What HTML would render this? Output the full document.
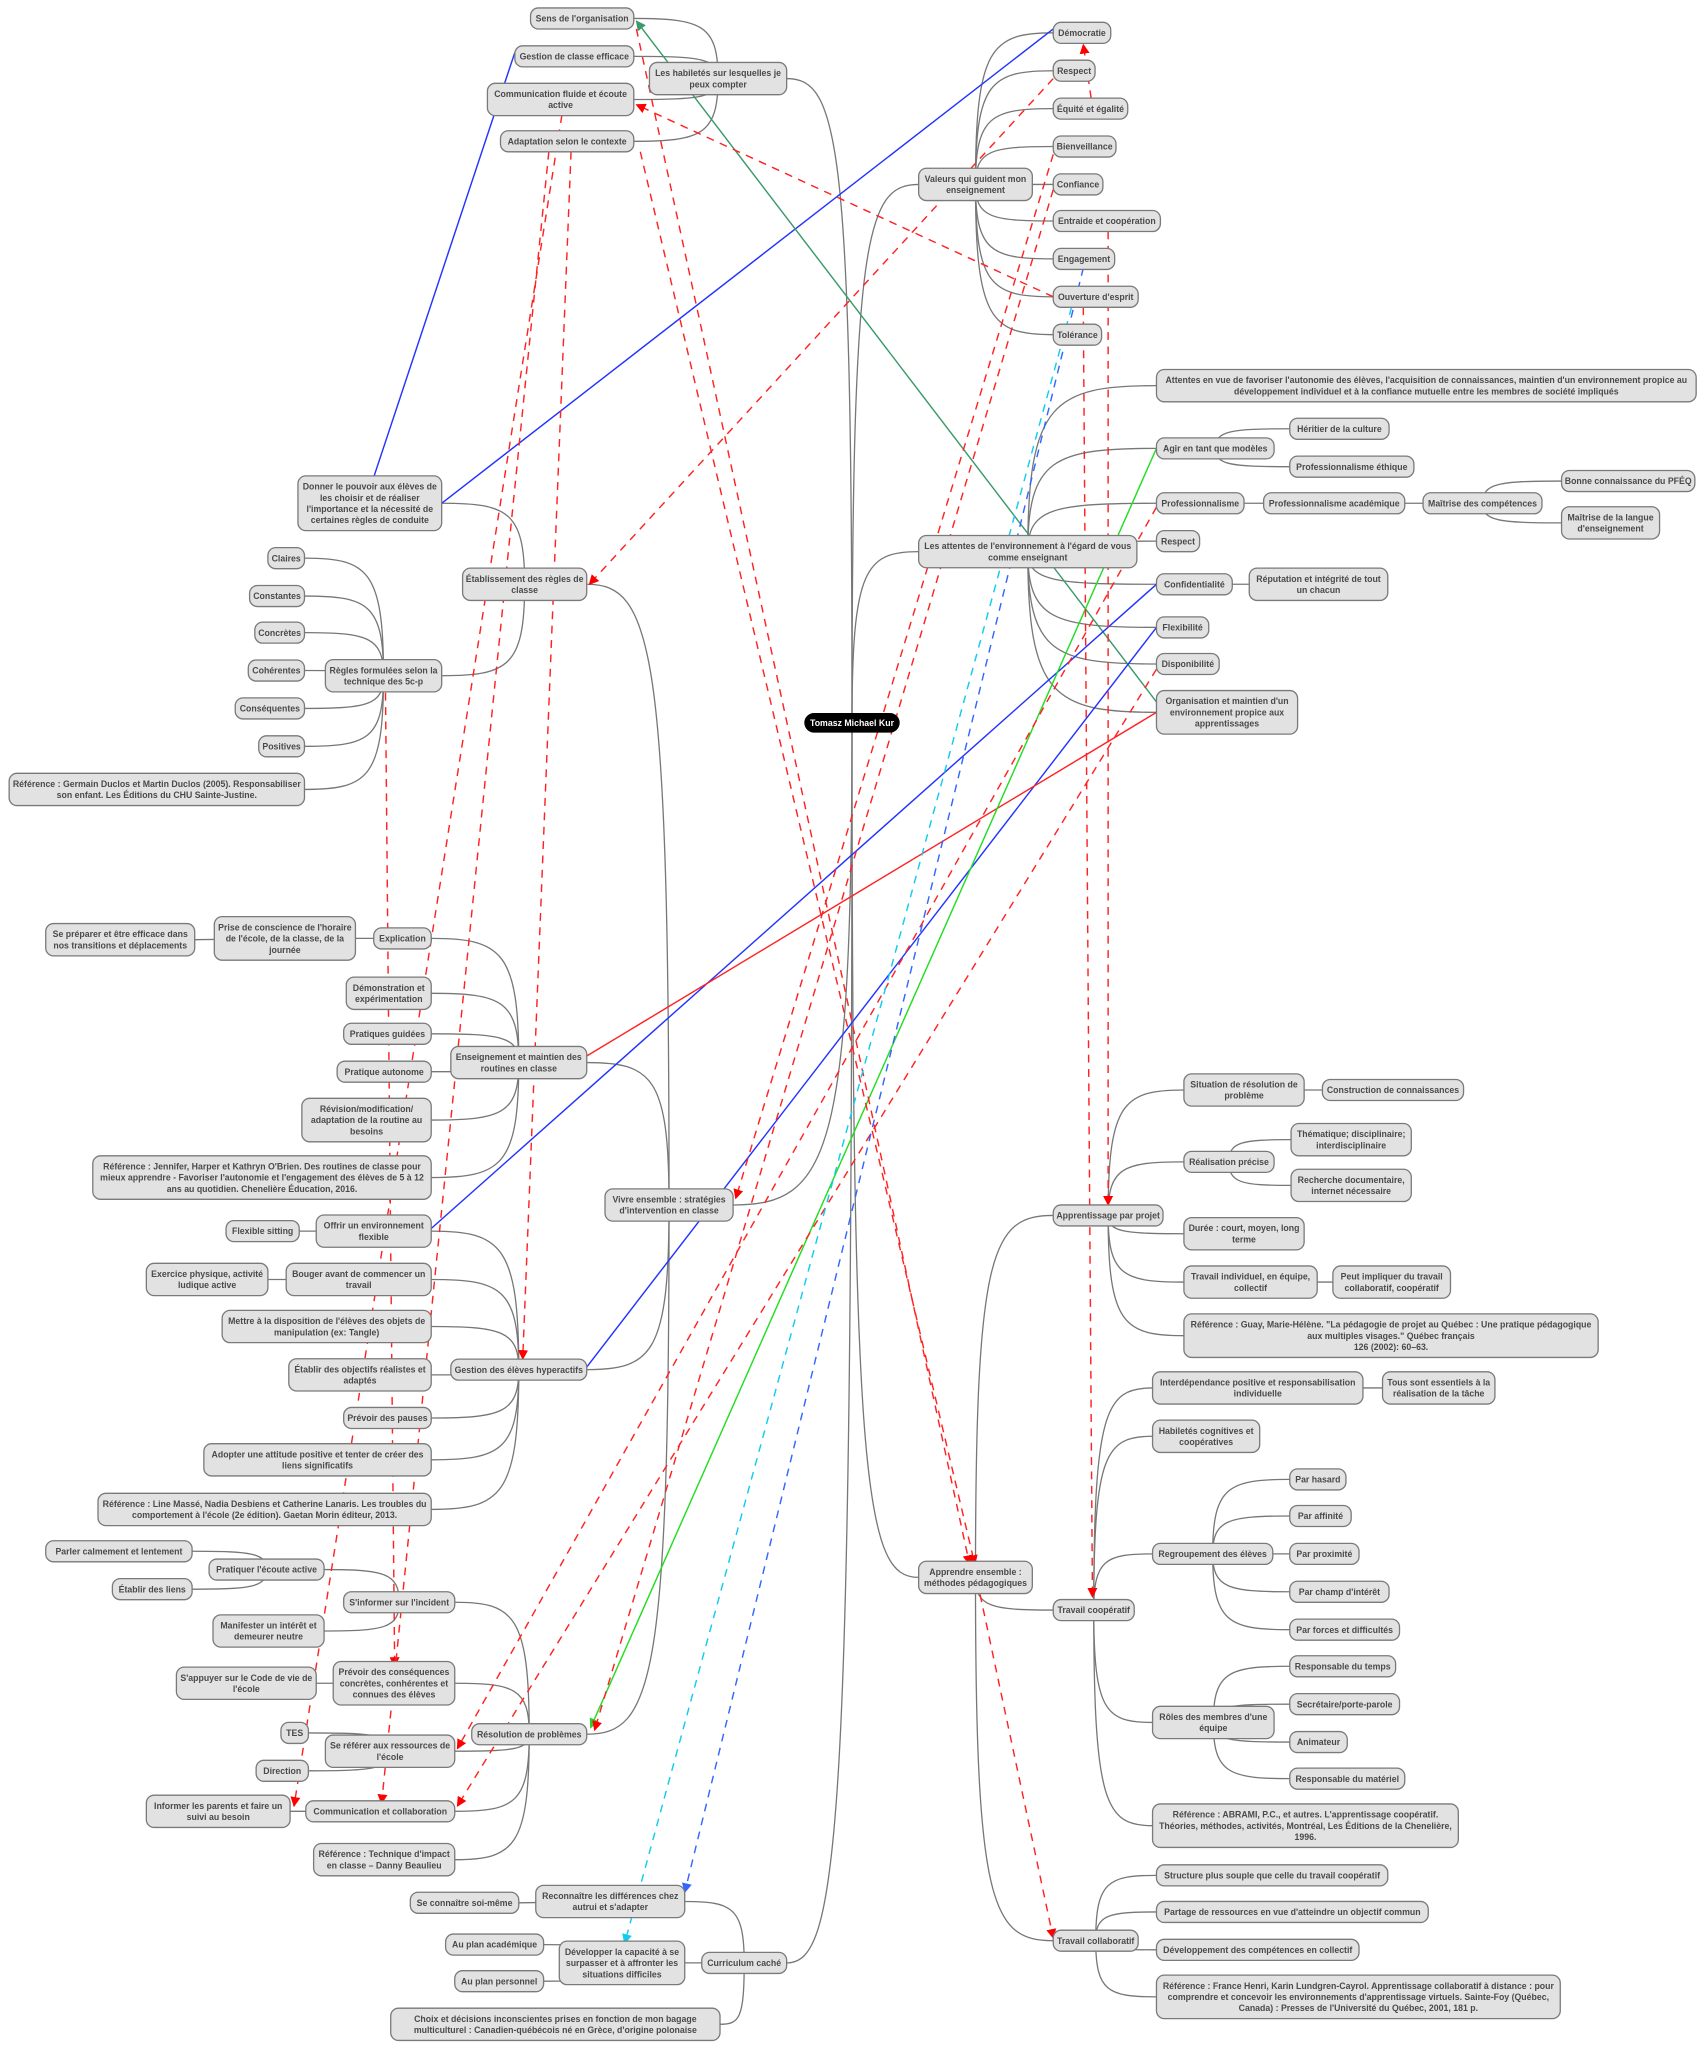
<!DOCTYPE html>
<html><head><meta charset="utf-8">
<style>
html,body{margin:0;padding:0;background:#fff;}
svg{display:block;}
text{font-family:"Liberation Sans","DejaVu Sans",sans-serif;font-weight:bold;font-size:6.7px;fill:#4a4a4a;}
</style></head><body>
<svg id="s" width="1704" height="2048" viewBox="0 0 1304 1567" xmlns="http://www.w3.org/2000/svg">
<defs>
<marker id="ar" viewBox="0 0 10 10" refX="9" refY="5" markerWidth="7" markerHeight="7" orient="auto"><path d="M0,0 L10,5 L0,10 z" fill="#f00"/></marker>
<marker id="ag" viewBox="0 0 10 10" refX="9" refY="5" markerWidth="7" markerHeight="7" orient="auto"><path d="M0,0 L10,5 L0,10 z" fill="#2ecc2e"/></marker>
<marker id="at" viewBox="0 0 10 10" refX="9" refY="5" markerWidth="7" markerHeight="7" orient="auto"><path d="M0,0 L10,5 L0,10 z" fill="#3a9a6a"/></marker>
<marker id="ab" viewBox="0 0 10 10" refX="9" refY="5" markerWidth="7" markerHeight="7" orient="auto"><path d="M0,0 L10,5 L0,10 z" fill="#3366ff"/></marker>
<marker id="ac" viewBox="0 0 10 10" refX="9" refY="5" markerWidth="7" markerHeight="7" orient="auto"><path d="M0,0 L10,5 L0,10 z" fill="#11ccee"/></marker>
</defs>
<g id="edges"></g><g id="links"></g><g id="nodes"></g>
</svg>
<script>
var N={
C:[616,688,553,"Tomasz Michael Kur",null],
hab:[497,602,60,"Les habiletés sur lesquelles je|peux compter","C"],
sens:[406,485,14,"Sens de l'organisation","hab"],
gce:[394,485,43,"Gestion de classe efficace","hab"],
com:[373,485,76,"Communication fluide et écoute|active","hab"],
adap:[383,485,108,"Adaptation selon le contexte","hab"],
val:[703,790,141,"Valeurs qui guident mon|enseignement","C"],
dem:[806,850,25,"Démocratie","val"],
res:[806,838,54,"Respect","val"],
equ:[806,863,83,"Équité et égalité","val"],
bien:[806,854,112,"Bienveillance","val"],
conf:[806,844,141,"Confiance","val"],
entr:[806,888,169,"Entraide et coopération","val"],
eng:[806,853,198,"Engagement","val"],
ouv:[806,871,227,"Ouverture d'esprit","val"],
tol:[806,843,256,"Tolérance","val"],
att:[703,870,422,"Les attentes de l'environnement à l'égard de vous|comme enseignant","C"],
attv:[885,1298,295,"Attentes en vue de favoriser l'autonomie des élèves, l'acquisition de connaissances, maintien d'un environnement propice au|développement individuel et à la confiance mutuelle entre les membres de société impliqués","att"],
agir:[885,975,343,"Agir en tant que modèles","att"],
heri:[987,1063,328,"Héritier de la culture","agir"],
peth:[987,1082,357,"Professionnalisme éthique","agir"],
prof:[885,952,385,"Professionnalisme","att"],
pacad:[967,1075,385,"Professionnalisme académique","prof"],
mcomp:[1089,1180,385,"Maîtrise des compétences","pacad"],
pfeq:[1195,1297,368,"Bonne connaissance du PFÉQ","mcomp"],
lang:[1195,1270,400,"Maîtrise de la langue|d'enseignement","mcomp"],
resp2:[885,918,414,"Respect","att"],
confid:[885,943,447,"Confidentialité","att"],
rep:[956,1062,447,"Réputation et intégrité de tout|un chacun","confid"],
flex:[885,925,480,"Flexibilité","att"],
dispo:[885,933,508,"Disponibilité","att"],
orga:[885,993,545,"Organisation  et  maintien d'un|environnement propice aux|apprentissages","att"],
viv:[463,561,922,"Vivre ensemble : stratégies|d'intervention en classe","C"],
etab:[354,449,447,"Établissement des règles de|classe","viv"],
donner:[228,338,385,"Donner le pouvoir aux élèves de|les choisir et de réaliser|l'importance et la nécessité de|certaines règles de conduite","etab"],
regl:[249,338,517,"Règles formulées selon la|technique des 5c-p","etab"],
cl:[205,233,427,"Claires","regl"],
cst:[191,233,456,"Constantes","regl"],
ccr:[195,233,484,"Concrètes","regl"],
coh:[190,233,513,"Cohérentes","regl"],
csq:[180,233,542,"Conséquentes","regl"],
pos:[198,233,571,"Positives","regl"],
refg:[7,233,604,"Référence : Germain Duclos et Martin Duclos (2005). Responsabiliser|son enfant. Les Éditions du CHU Sainte-Justine.","regl"],
ens:[345,449,813,"Enseignement et maintien des|routines en classe","viv"],
expl:[286,330,718,"Explication","ens"],
prise:[164,272,718,"Prise de conscience de l'horaire|de l'école, de la classe, de la|journée","expl"],
prep:[35,149,719,"Se préparer et être efficace dans|nos transitions et déplacements","prise"],
demo:[265,330,760,"Démonstration et|expérimentation","ens"],
pg:[263,330,791,"Pratiques guidées","ens"],
pa:[258,330,820,"Pratique autonome","ens"],
rev:[231,330,857,"Révision/modification/|adaptation de la routine au|besoins","ens"],
refj:[71,330,901,"Référence : Jennifer, Harper et Kathryn O'Brien. Des routines de classe pour|mieux apprendre - Favoriser l'autonomie et l'engagement des élèves de 5 à 12|ans au quotidien. Chenelière Éducation, 2016.","ens"],
gest:[345,449,1048,"Gestion des élèves hyperactifs","viv"],
offr:[242,330,942,"Offrir un environnement|flexible","gest"],
fs:[173,229,942,"Flexible sitting","offr"],
boug:[219,330,979,"Bouger avant de commencer un|travail","gest"],
exer:[112,205,979,"Exercice physique, activité|ludique active","boug"],
mett:[170,330,1015,"Mettre à la disposition de l'élèves des objets de|manipulation (ex: Tangle)","gest"],
obj:[221,330,1052,"Établir des objectifs réalistes et|adaptés","gest"],
pau:[263,330,1085,"Prévoir des pauses","gest"],
adop:[156,330,1117,"Adopter une attitude positive et tenter de créer des|liens significatifs","gest"],
refl:[75,330,1155,"Référence : Line Massé, Nadia Desbiens et Catherine Lanaris. Les troubles du|comportement à l'école (2e édition). Gaetan Morin éditeur, 2013.","gest"],
reso:[361,449,1327,"Résolution de problèmes","viv"],
sinf:[263,348,1226,"S'informer sur l'incident","reso"],
prat:[160,248,1201,"Pratiquer l'écoute active","sinf"],
parl:[35,147,1187,"Parler calmement et lentement","prat"],
etl:[86,147,1216,"Établir des liens","prat"],
mani:[163,248,1248,"Manifester un intérêt et|demeurer neutre","sinf"],
prev:[255,348,1288,"Prévoir des conséquences|concrètes, conhérentes et|connues des élèves","reso"],
sapp:[135,242,1288,"S'appuyer sur le Code de vie de|l'école","prev"],
sref:[249,348,1340,"Se référer aux ressources de|l'école","reso"],
tes:[215,236,1326,"TES","sref"],
dir:[196,236,1355,"Direction","sref"],
ccol:[234,348,1386,"Communication et collaboration","reso"],
inf:[112,222,1386,"Informer les parents et faire un|suivi au besoin","ccol"],
reft:[240,348,1423,"Référence : Technique d'impact|en classe – Danny Beaulieu","reso"],
cur:[537,602,1502,"Curriculum caché","C"],
rec:[410,524,1455,"Reconnaître les différences chez|autrui et s'adapter","cur"],
scon:[314,397,1456,"Se connaître  soi-même","rec"],
dev:[428,524,1502,"Développer la capacité à se|surpasser et à affronter les|situations difficiles","cur"],
apa:[341,416,1488,"Au plan académique","dev"],
app:[348,416,1516,"Au plan personnel","dev"],
choix:[299,551,1549,"Choix et décisions inconscientes prises en fonction de mon bagage|multiculturel : Canadien-québécois né en Grèce, d'origine polonaise","cur"],
appr:[703,790,1207,"Apprendre ensemble :|méthodes pédagogiques","C"],
proj:[806,890,930,"Apprentissage par projet","appr"],
sit:[906,998,834,"Situation de résolution de|problème","proj"],
cons:[1012,1120,834,"Construction de connaissances","sit"],
real:[906,975,889,"Réalisation précise","proj"],
them:[988,1080,872,"Thématique; disciplinaire;|interdisciplinaire","real"],
rech:[988,1080,907,"Recherche documentaire,|internet nécessaire","real"],
dur:[906,998,944,"Durée : court, moyen, long|terme","proj"],
trav:[906,1008,981,"Travail individuel, en équipe,|collectif","proj"],
peut:[1020,1110,981,"Peut impliquer du travail|collaboratif, coopératif","trav"],
refgu:[906,1223,1022,"Référence : Guay, Marie-Hélène. \"La pédagogie de projet au Québec : Une pratique pédagogique|aux multiples visages.\" Québec français|126 (2002): 60–63.","proj"],
coop:[806,868,1232,"Travail coopératif","appr"],
inter:[882,1043,1062,"Interdépendance positive et responsabilisation|individuelle","coop"],
tous:[1058,1144,1062,"Tous sont essentiels à la|réalisation de la tâche","inter"],
habc:[882,964,1099,"Habiletés cognitives et|coopératives","coop"],
regr:[882,974,1189,"Regroupement des élèves","coop"],
ph:[987,1030,1132,"Par hasard","regr"],
paf:[987,1034,1160,"Par affinité","regr"],
ppr:[987,1040,1189,"Par proximité","regr"],
pch:[987,1063,1218,"Par  champ d'intérêt","regr"],
pfd:[987,1071,1247,"Par forces et difficultés","regr"],
roles:[882,975,1318,"Rôles des membres d'une|équipe","coop"],
rt:[987,1068,1275,"Responsable du temps","roles"],
sec:[987,1071,1304,"Secrétaire/porte-parole","roles"],
ani:[987,1031,1333,"Animateur","roles"],
rm:[987,1075,1361,"Responsable du matériel","roles"],
refa:[882,1116,1397,"Référence : ABRAMI, P.C., et autres. L'apprentissage coopératif.|Théories, méthodes, activités, Montréal, Les Éditions de la Chenelière,|1996.","coop"],
coll:[806,871,1485,"Travail collaboratif","appr"],
str:[885,1062,1435,"Structure plus souple que celle du travail coopératif","coll"],
part:[885,1093,1463,"Partage de ressources en vue d'atteindre un objectif commun","coll"],
dcol:[885,1040,1492,"Développement des compétences en collectif","coll"],
refh:[885,1194,1528,"Référence : France Henri, Karin Lundgren-Cayrol. Apprentissage collaboratif à distance : pour|comprendre et concevoir les environnements d'apprentissage virtuels. Sainte-Foy (Québec,|Canada) : Presses de l'Université du Québec, 2001, 181 p.","coll"]
};
var NS="http://www.w3.org/2000/svg";
function el(t,a,p){var e=document.createElementNS(NS,t);for(var k in a)e.setAttribute(k,a[k]);p.appendChild(e);return e;}
var E=document.getElementById("edges"),L=document.getElementById("links"),G=document.getElementById("nodes");
function h(n){var l=n[3].split("|").length;return l*8.6+7.5;}
for(var k in N){var n=N[k];if(!n[4])continue;var p=N[n[4]];
 var px=(p[0]+p[1])/2,py=p[2];if(n[4]=="C"){px=652;py=553;}
 var cx=(n[0]+n[1])/2,ex,ey=n[2];
 ex=cx<px?n[1]:n[0];
 var d;
 if(Math.abs(ey-py)<3)d="M"+px+","+py+" L"+ex+","+ey;
 else d="M"+px+","+py+" C"+px+","+(py+(ey-py)*0.9)+" "+(px+(ex-px)*0.2)+","+ey+" "+ex+","+ey;
 el("path",{d:d,fill:"none",stroke:"#777","stroke-width":"1"},E);}
var LS=[
[394,40,285,368,"#2233ff",0,0],
[806,22,338,385,"#2233ff",0,0],
[885,537,487,16,"#3a9a6a",0,"at"],
[885,447,330,940,"#2233ff",0,0],
[885,480,449,1046,"#2233ff",0,0],
[885,545,449,808,"#ff2222",0,0],
[885,343,452,1322,"#22dd22",0,"ag"],
[835,75,829,34,"#f22",1,"ar"],
[848,177,848,922,"#f22",1,"ar"],
[806,227,487,80,"#f22",1,"ar"],
[829,235,836,1222,"#f22",1,"ar"],
[806,60,451,447,"#f22",1,"ar"],
[806,118,563,917,"#f22",1,"ar"],
[806,145,455,1324,"#f22",1,"ar"],
[885,388,350,1338,"#f22",1,"ar"],
[885,512,350,1382,"#f22",1,"ar"],
[430,88,225,1382,"#f22",1,"ar"],
[437,116,400,1040,"#f22",1,"ar"],
[295,530,302,1275,"#f22",1,"ar"],
[420,116,292,1380,"#f22",1,"ar"],
[487,22,742,1197,"#f22",1,"ar"],
[490,116,746,1197,"#f22",1,"ar"],
[750,1220,806,1483,"#f22",1,"ar"],
[829,205,524,1448,"#3366ff",1,"ab"],
[820,235,478,1487,"#11ccee",1,"ac"]
];
LS.forEach(function(l){var a={x1:l[0],y1:l[1],x2:l[2],y2:l[3],stroke:l[4],"stroke-width":"1.1"};
 if(l[5])a["stroke-dasharray"]="6,5";if(l[6])a["marker-end"]="url(#"+l[6]+")";el("line",a,L);});
for(var k in N){var n=N[k],hh=h(n),w=n[1]-n[0];var c=k=="C";
 if(c)hh=14;
 el("rect",{x:n[0],y:n[2]-hh/2,width:w,height:hh,rx:c?7:6,fill:c?"#000":"#e2e2e2",stroke:c?"#000":"#7a7a7a","stroke-width":"1"},G);
 var ls=n[3].split("|");var y0=n[2]-(ls.length-1)*8.6/2+2.4;
 ls.forEach(function(s,i){var t=el("text",{x:(n[0]+n[1])/2,y:y0+i*8.6,"text-anchor":"middle"},G);if(c)t.setAttribute("style","fill:#fff");t.textContent=s;});
}
</script>
</body></html>
